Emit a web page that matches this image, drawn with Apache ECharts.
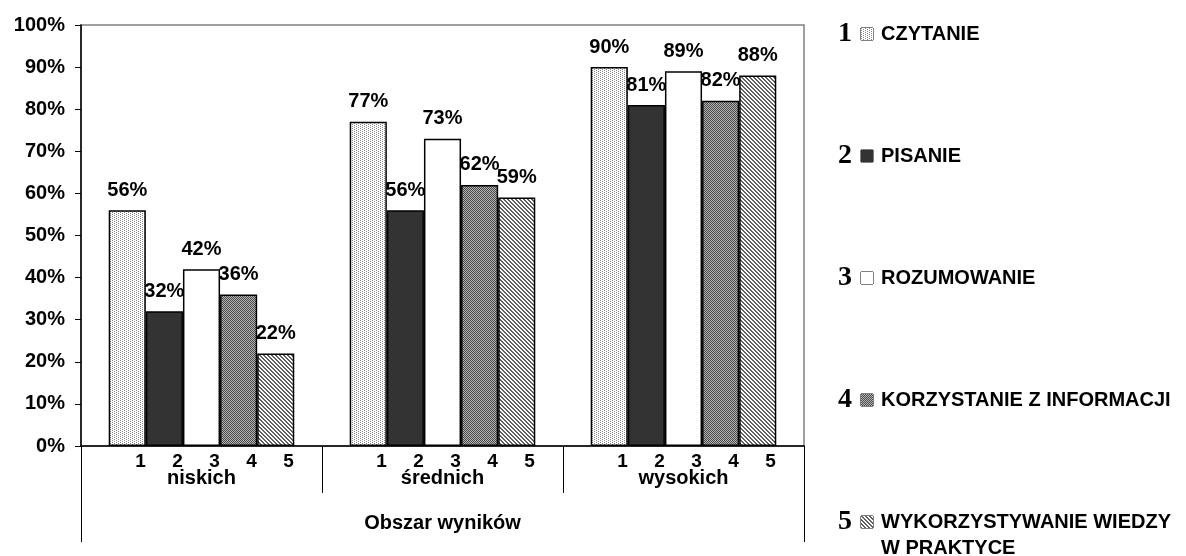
<!DOCTYPE html>
<html><head><meta charset="utf-8">
<script src="https://cdn.jsdelivr.net/npm/echarts@6/dist/echarts.min.js"></script>
<style>html,body{margin:0;padding:0;background:#fff}#c{width:1186px;height:556px}</style>
</head><body><div id="c"></div>
<script>
const categories = ['niskich', 'średnich', 'wysokich'];
const subLabels = ['1', '2', '3', '4', '5'];
const seriesNames = ['CZYTANIE', 'PISANIE', 'ROZUMOWANIE', 'KORZYSTANIE Z INFORMACJI', 'WYKORZYSTYWANIE WIEDZY\nW PRAKTYCE'];
const czytanie = [56, 77, 90];
const pisanie = [32, 56, 81];
const rozumowanie = [42, 73, 89];
const korzystanie = [36, 62, 82];
const wykorzystywanie = [22, 59, 88];
const axisTitle = 'Obszar wyników';
const yMin = 0, yMax = 100, yStep = 10;

function pattern(bg, fg, test) {
  const c = document.createElement('canvas');
  c.width = 12; c.height = 12;
  const g = c.getContext('2d');
  g.fillStyle = bg; g.fillRect(0, 0, 12, 12);
  if (fg) {
    g.fillStyle = fg;
    for (let y = 0; y < 12; y++) for (let x = 0; x < 12; x++) if (test(x, y)) g.fillRect(x, y, 1, 1);
  }
  return c;
}
const fills = [
  pattern('#ffffff', '#8a8a8a', (x, y) => (y % 2 === 0 && x % 4 === 0) || (y % 2 === 1 && x % 4 === 2)),
  pattern('#333333'),
  pattern('#ffffff'),
  pattern('#b4b4b4', '#4a4a4a', (x, y) => (x + y) % 2 === 0),
  pattern('#ffffff', '#606060', (x, y) => (((x - y) % 4) + 4) % 4 < 2)
];
const seriesData = [czytanie, pisanie, rozumowanie, korzystanie, wykorzystywanie];

const FONT = 'Liberation Sans, Arial, sans-serif';
const legendRich = {
  n: { fontFamily: 'Liberation Serif, Times New Roman, serif', fontWeight: 'bold', fontSize: 28, width: 23, lineHeight: 24, align: 'left', color: '#000' },
  g: { width: 8, lineHeight: 24 },
  t: { fontFamily: FONT, fontWeight: 'bold', fontSize: 20, lineHeight: 24, color: '#000' },
  t2: { fontFamily: FONT, fontWeight: 'bold', fontSize: 20, lineHeight: 28, color: '#000' },
  s: { width: 43, lineHeight: 28 }
};
fills.forEach((f, i) => {
  legendRich['b' + i] = { width: 12, height: 12, lineHeight: 24, backgroundColor: { image: f }, borderColor: '#000', borderWidth: 1 };
});

const chart = echarts.init(document.getElementById('c'), null, { renderer: 'canvas' });
chart.setOption({
  animation: false,
  backgroundColor: '#fff',
  grid: { left: 81, right: 382, top: 25, bottom: 110, show: true, borderColor: '#808080', borderWidth: 1.5, containLabel: false },
  legend: {
    orient: 'vertical', left: 833, top: 20, height: 600, padding: 0, itemGap: 94,
    itemWidth: 0, itemHeight: 0,
    itemStyle: { color: 'transparent', borderWidth: 0 },
    data: seriesNames,
    formatter: function (name) {
      const i = seriesNames.indexOf(name);
      const lines = name.split('\n');
      let s = '{n|' + (i + 1) + '}{b' + i + '| }{g| }{t|' + lines[0] + '}';
      for (let k = 1; k < lines.length; k++) s += '\n{s| }{t2|' + lines[k] + '}';
      return s;
    },
    textStyle: { rich: legendRich }
  },
  xAxis: [
    {
      type: 'category', data: categories, position: 'bottom',
      axisLine: { lineStyle: { color: '#000', width: 1.5 } },
      axisTick: { show: true, length: 47, lineStyle: { color: '#000', width: 1 } },
      splitLine: { show: false },
      axisLabel: {
        margin: 8, interval: 0,
        formatter: function (v) {
          return '{sp| }' + subLabels.map(d => '{d|' + d + '}').join('') + '\n{c|' + v + '}';
        },
        rich: {
          sp: { width: 26, lineHeight: 16 },
          d: { width: 37, align: 'center', fontFamily: FONT, fontWeight: 'bold', fontSize: 19, lineHeight: 16, color: '#000' },
          c: { fontFamily: FONT, fontWeight: 'bold', fontSize: 20, lineHeight: 16, color: '#000' }
        }
      }
    },
    {
      type: 'category', data: [axisTitle], position: 'bottom', gridIndex: 0,
      axisLine: { show: false },
      axisTick: { show: true, length: 96, lineStyle: { color: '#000', width: 1 } },
      splitLine: { show: false },
      axisLabel: { margin: 67, fontFamily: FONT, fontWeight: 'bold', fontSize: 20, color: '#000' }
    }
  ],
  yAxis: {
    type: 'value', min: yMin, max: yMax, interval: yStep,
    axisLine: { show: true, lineStyle: { color: '#000', width: 1.5 } },
    axisTick: { show: true, length: 6, lineStyle: { color: '#000', width: 1 } },
    splitLine: { show: false },
    axisLabel: { formatter: '{value}%', margin: 16, fontFamily: FONT, fontWeight: 'bold', fontSize: 20, color: '#000' }
  },
  series: seriesNames.map((name, i) => ({
    name: name, type: 'bar', xAxisIndex: 0,
    data: seriesData[i],
    barGap: '0%', barCategoryGap: '23%',
    itemStyle: { color: { image: fills[i], repeat: 'repeat' }, borderColor: '#000', borderWidth: 1.5 },
    label: { show: true, position: 'top', distance: 10, formatter: '{c}%', fontFamily: FONT, fontWeight: 'bold', fontSize: 20, color: '#000' }
  }))
});
</script>
</body></html>
